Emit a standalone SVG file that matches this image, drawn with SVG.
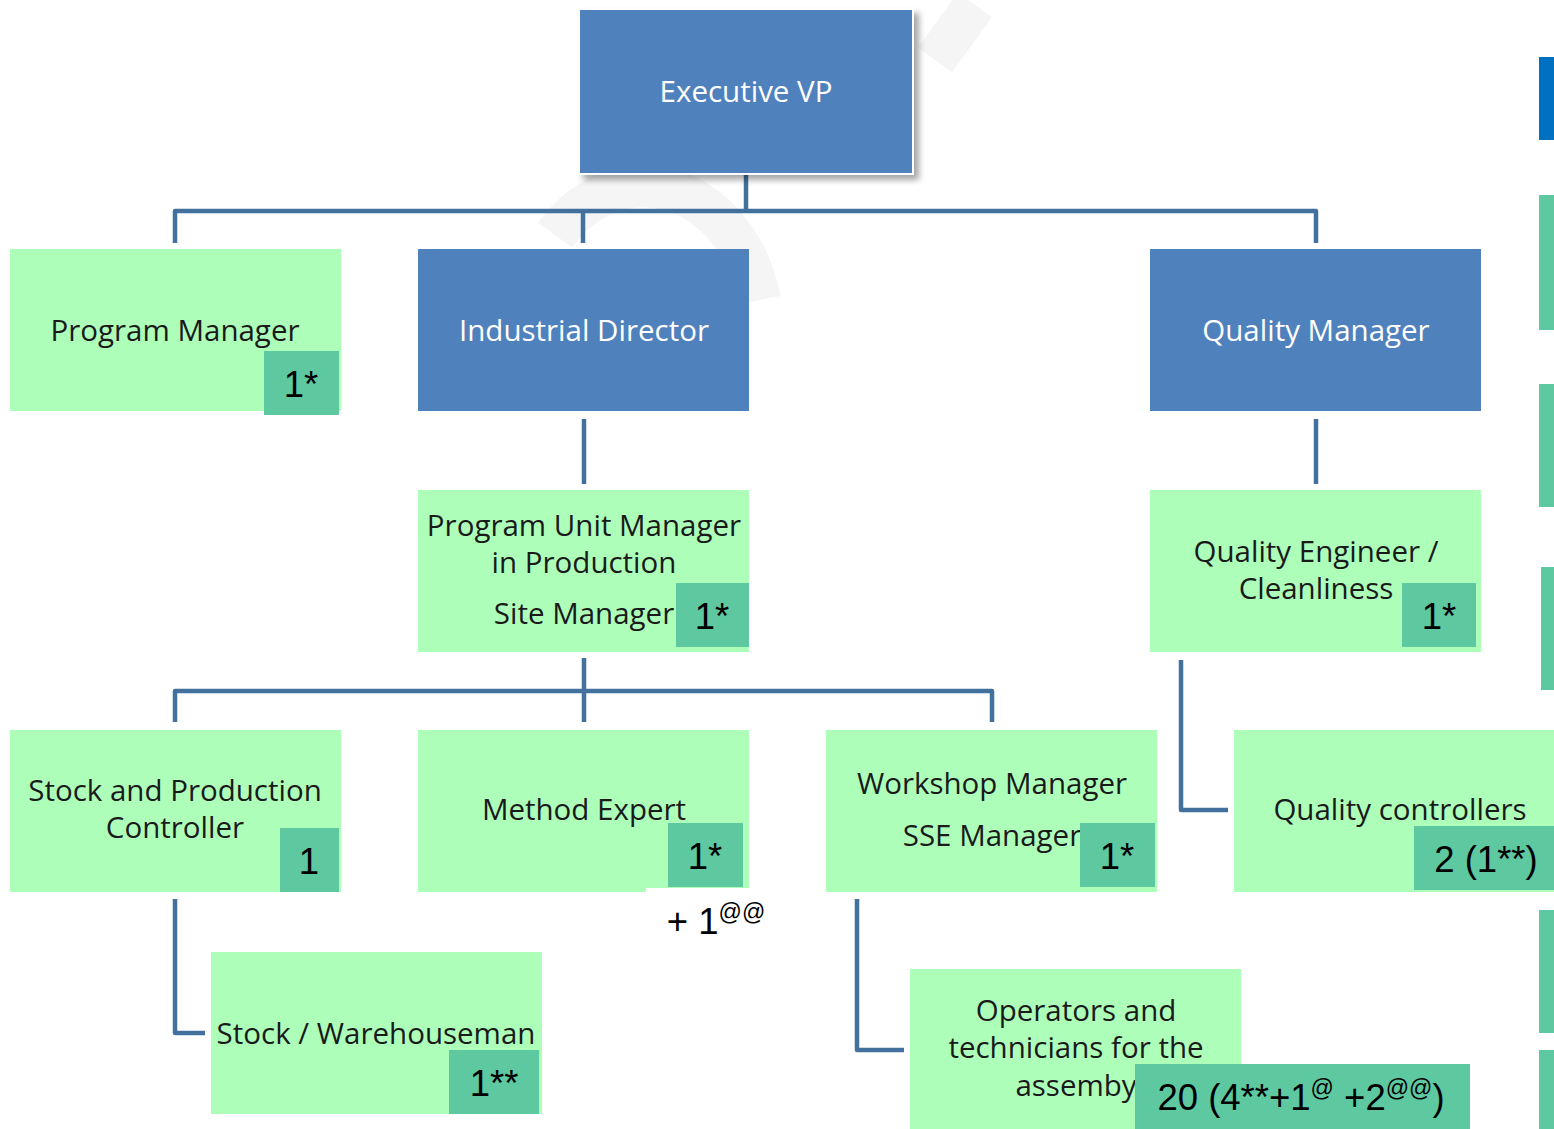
<svg xmlns="http://www.w3.org/2000/svg" width="1554" height="1129" viewBox="0 0 1554 1129">
<defs>
<filter id="sh" x="-10%" y="-10%" width="130%" height="130%">
<feDropShadow dx="5" dy="5" stdDeviation="3" flood-color="#000" flood-opacity="0.35"/>
</filter>
<style>
.blue{fill:#4F81BD}
.green{fill:#ADFEB9}
.badge{fill:#5EC8A0}
.lbl{font-family:"Open Sans","Liberation Sans",sans-serif;font-size:29.5px;fill:#1a1a1a;text-anchor:middle}
.wl{font-family:"Open Sans","Liberation Sans",sans-serif;font-size:29.5px;fill:#ffffff;text-anchor:middle}
.num{font-family:"Liberation Sans",Arial,sans-serif;font-size:36.5px;fill:#000;text-anchor:middle}
.sup{font-size:23px}
.conn{fill:none;stroke:#41719C;stroke-width:4.5;stroke-linejoin:round}
.bar{fill:#5EC8A0}
</style>
</defs>
<rect width="1554" height="1129" fill="#fff"/>
<g id="watermark" fill="none" stroke="#f5f5f5" stroke-width="42">
<path d="M555 235 A 120 150 0 0 1 760 300"/>
<path d="M975 5 L 935 60"/>
</g>
<g id="connectors">
<path class="conn" d="M746 173 V211 M175 243 V211 H1316 V243 M583 211 V243"/>
<path class="conn" d="M584 419 V484"/>
<path class="conn" d="M1316 419 V484"/>
<path class="conn" d="M584 658 V722 M175 722 V691 H992 V722"/>
<path class="conn" d="M1181 660 V810 H1228"/>
<path class="conn" d="M175 899 V1033 H205"/>
<path class="conn" d="M857 899 V1050 H904"/>
</g>
<g id="executive-vp">
<rect x="578" y="8" width="336" height="167" fill="#fff" filter="url(#sh)"/>
<rect class="blue" x="580" y="10" width="332" height="163"/>
<text class="wl" x="746" y="102">Executive VP</text>
</g>
<g id="program-manager">
<rect class="green" x="10" y="249" width="331" height="162"/>
<text class="lbl" x="175" y="341">Program Manager</text>
<rect class="badge" x="264" y="351" width="75" height="64"/>
<text class="num" x="301" y="397">1*</text>
</g>
<g id="industrial-director">
<rect class="blue" x="418" y="249" width="331" height="162"/>
<text class="wl" x="584" y="341">Industrial Director</text>
</g>
<g id="quality-manager">
<rect class="blue" x="1150" y="249" width="331" height="162"/>
<text class="wl" x="1316" y="341">Quality Manager</text>
</g>
<g id="program-unit-manager">
<rect class="green" x="418" y="490" width="331" height="162"/>
<text class="lbl" x="584" y="536">Program Unit Manager</text>
<text class="lbl" x="584" y="573">in Production</text>
<text class="lbl" x="584" y="624">Site Manager</text>
<rect class="badge" x="676" y="583" width="73" height="64"/>
<text class="num" x="712" y="629">1*</text>
</g>
<g id="quality-engineer">
<rect class="green" x="1150" y="490" width="331" height="162"/>
<text class="lbl" x="1316" y="562">Quality Engineer /</text>
<text class="lbl" x="1316" y="599">Cleanliness</text>
<rect class="badge" x="1402" y="583" width="74" height="64"/>
<text class="num" x="1439" y="629">1*</text>
</g>
<g id="stock-production-controller">
<rect class="green" x="10" y="730" width="331" height="162"/>
<text class="lbl" x="175" y="801">Stock and Production</text>
<text class="lbl" x="175" y="838">Controller</text>
<rect class="badge" x="280" y="828" width="59" height="64"/>
<text class="num" x="309" y="874">1</text>
</g>
<g id="method-expert">
<rect class="green" x="418" y="730" width="331" height="162"/>
<text class="lbl" x="584" y="820">Method Expert</text>
<rect class="badge" x="668" y="823" width="75" height="64"/>
<text class="num" x="705" y="869">1*</text>
<rect x="646" y="888" width="124" height="56" fill="#fff"/>
<text class="num" x="716" y="934">+ 1<tspan class="sup" dy="-14">@@</tspan></text>
</g>
<g id="workshop-manager">
<rect class="green" x="826" y="730" width="331" height="162"/>
<text class="lbl" x="992" y="794">Workshop Manager</text>
<text class="lbl" x="992" y="846">SSE Manager</text>
<rect class="badge" x="1080" y="823" width="75" height="64"/>
<text class="num" x="1117" y="869">1*</text>
</g>
<g id="quality-controllers">
<rect class="green" x="1234" y="730" width="320" height="162"/>
<text class="lbl" x="1400" y="820">Quality controllers</text>
<rect class="badge" x="1414" y="826" width="140" height="64"/>
<text class="num" x="1486" y="872">2 (1**)</text>
</g>
<g id="stock-warehouseman">
<rect class="green" x="211" y="952" width="331" height="162"/>
<text class="lbl" x="376" y="1044">Stock / Warehouseman</text>
<rect class="badge" x="449" y="1050" width="90" height="64"/>
<text class="num" x="494" y="1096">1**</text>
</g>
<g id="operators">
<rect class="green" x="910" y="969" width="331" height="160"/>
<text class="lbl" x="1076" y="1021">Operators and</text>
<text class="lbl" x="1076" y="1058">technicians for the</text>
<text class="lbl" x="1076" y="1096">assemby</text>
<rect class="badge" x="1135" y="1064" width="335" height="65"/>
<text class="num" x="1301" y="1110">20 (4**+1<tspan class="sup" dy="-14">@</tspan><tspan dy="14"> +2</tspan><tspan class="sup" dy="-14">@@</tspan><tspan dy="14">)</tspan></text>
</g>
<g id="side-bars">
<rect x="1539" y="57" width="15" height="83" fill="#0070C0"/>
<rect class="bar" x="1539" y="195" width="15" height="135"/>
<rect class="bar" x="1539" y="384" width="15" height="123"/>
<rect class="bar" x="1541" y="567" width="13" height="123"/>
<rect class="bar" x="1539" y="910" width="15" height="123"/>
<rect class="bar" x="1539" y="1050" width="15" height="79"/>
</g>
</svg>
